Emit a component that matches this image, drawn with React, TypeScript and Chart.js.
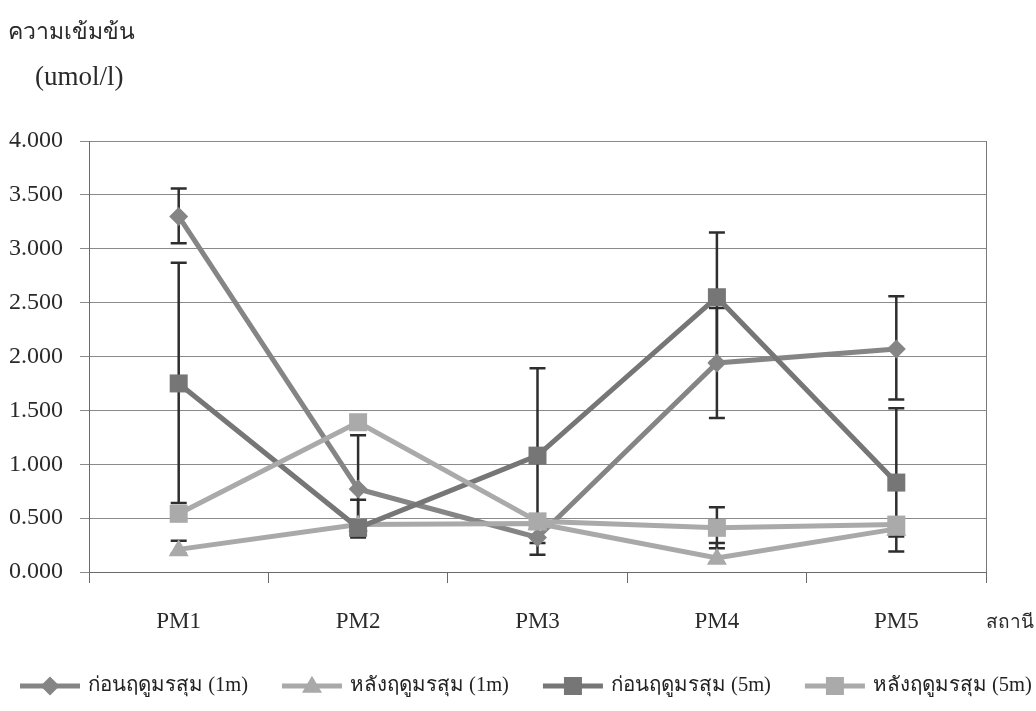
import React, { useEffect, useRef } from 'react';
import { Chart, registerables } from 'chart.js';
Chart.register(...registerables);

const categories = ['PM1', 'PM2', 'PM3', 'PM4', 'PM5'];
const seriesNames = ['ก่อนฤดูมรสุม (1m)', 'หลังฤดูมรสุม (1m)', 'ก่อนฤดูมรสุม (5m)', 'หลังฤดูมรสุม (5m)'];
const before1m = [3.30, 0.77, 0.32, 1.94, 2.07];
const after1m = [0.21, 0.44, 0.45, 0.13, 0.40];
const before5m = [1.75, 0.41, 1.08, 2.55, 0.83];
const after5m = [0.54, 1.39, 0.47, 0.41, 0.44];
// error bars as [low, high]
const before1mErr: ([number, number] | null)[] = [[3.05, 3.56], [0.32, 1.27], [0.16, 0.48], [1.43, 2.45], [1.60, 2.56]];
const after1mErr: ([number, number] | null)[] = [[0.17, 0.29], null, null, [0.09, 0.27], null];
const before5mErr: ([number, number] | null)[] = [[0.64, 2.87], [0.41, 0.67], [0.27, 1.89], [1.95, 3.15], [0.19, 1.52]];
const after5mErr: ([number, number] | null)[] = [null, null, null, [0.22, 0.60], [0.33, 0.44]];
const yTicks = [0, 0.5, 1, 1.5, 2, 2.5, 3, 3.5, 4];

const colors = ['#858585', '#a9a9a9', '#767676', '#aaaaaa'];
const markers = ['diamond', 'triangle', 'square', 'square'];
const errSets = [before1mErr, after1mErr, before5mErr, after5mErr];

function drawMarker(ctx: CanvasRenderingContext2D, kind: string, x: number, y: number, color: string) {
  ctx.save();
  ctx.fillStyle = color;
  ctx.beginPath();
  if (kind === 'diamond') {
    const r = 9.5;
    ctx.moveTo(x, y - r); ctx.lineTo(x + r, y); ctx.lineTo(x, y + r); ctx.lineTo(x - r, y); ctx.closePath();
  } else if (kind === 'triangle') {
    const h = 17, w = 20;
    ctx.moveTo(x, y - h * 0.6); ctx.lineTo(x + w / 2, y + h * 0.4); ctx.lineTo(x - w / 2, y + h * 0.4); ctx.closePath();
  } else {
    const s = 18;
    ctx.rect(x - s / 2, y - s / 2, s, s);
  }
  ctx.fill();
  ctx.restore();
}

export default function App() {
  const ref = useRef<HTMLCanvasElement>(null);
  useEffect(() => {
    document.body.style.margin = '0';
    const errorBarPlugin = {
      id: 'errorBars',
      beforeDatasetsDraw(chart: any) {
        const ctx = chart.ctx;
        const ys = chart.scales.y;
        const ca = chart.chartArea;
        ctx.save();
        ctx.strokeStyle = '#7a7a7a';
        ctx.lineWidth = 1;
        ctx.beginPath();
        ctx.moveTo(ca.right + 0.5, ca.top);
        ctx.lineTo(ca.right + 0.5, ca.bottom);
        ctx.stroke();
        ctx.restore();
        chart.data.datasets.forEach((_ds: any, i: number) => {
          const meta = chart.getDatasetMeta(i);
          const errs = errSets[i];
          meta.data.forEach((pt: any, j: number) => {
            const e = errs[j];
            if (!e) return;
            const x = pt.x;
            const y1 = ys.getPixelForValue(e[0]);
            const y2 = ys.getPixelForValue(e[1]);
            ctx.save();
            ctx.strokeStyle = '#2e2e2e';
            ctx.lineWidth = 2.5;
            ctx.beginPath();
            ctx.moveTo(x, y1); ctx.lineTo(x, y2);
            ctx.moveTo(x - 8, y1); ctx.lineTo(x + 8, y1);
            ctx.moveTo(x - 8, y2); ctx.lineTo(x + 8, y2);
            ctx.stroke();
            ctx.restore();
          });
        });
      },
      afterDatasetsDraw(chart: any) {
        const ctx = chart.ctx;
        chart.data.datasets.forEach((_ds: any, i: number) => {
          const meta = chart.getDatasetMeta(i);
          meta.data.forEach((pt: any) => drawMarker(ctx, markers[i], pt.x, pt.y, colors[i]));
        });
      },
      afterDraw(chart: any) {
        const ctx = chart.ctx;
        ctx.save();
        ctx.font = '20.5px "Liberation Serif", serif';
        ctx.fillStyle = '#222';
        ctx.textBaseline = 'middle';
        let x = 20;
        const yC = 686;
        seriesNames.forEach((name, i) => {
          ctx.strokeStyle = colors[i];
          ctx.lineWidth = 5;
          ctx.beginPath();
          ctx.moveTo(x, yC); ctx.lineTo(x + 60, yC);
          ctx.stroke();
          drawMarker(ctx, markers[i], x + 30, yC, colors[i]);
          ctx.fillStyle = '#222';
          ctx.fillText(name, x + 68, yC);
          x += 68 + ctx.measureText(name).width + 34;
        });
        ctx.restore();
      },
    };

    const mk = (i: number, data: number[], order: number) => ({
      label: seriesNames[i],
      data,
      borderColor: colors[i],
      backgroundColor: colors[i],
      borderWidth: 5,
      pointRadius: 0,
      tension: 0,
      order,
    });

    const chart = new Chart(ref.current!, {
      type: 'line',
      data: {
        labels: categories,
        datasets: [mk(0, before1m, 3), mk(1, after1m, 2), mk(2, before5m, 1), mk(3, after5m, 0)],
      },
      plugins: [errorBarPlugin],
      options: {
        animation: false,
        responsive: false,
        events: [],
        layout: { padding: { left: 0, right: 50, top: 141, bottom: 0 } },
        plugins: { legend: { display: false }, tooltip: { enabled: false } },
        scales: {
          x: {
            offset: true,
            grid: { offset: true, drawOnChartArea: false, tickLength: 11, color: '#6a6a6a' },
            border: { display: true, color: '#6a6a6a' },
            ticks: { color: '#2a2a2a', font: { family: '"Liberation Serif", serif', size: 23 }, padding: 25 },
            afterFit: (s: any) => { s.height = 139; },
          },
          y: {
            min: 0,
            max: 4,
            afterBuildTicks: (s: any) => { s.ticks = yTicks.map((v) => ({ value: v })); },
            grid: { color: '#8a8a8a', tickLength: 9 },
            border: { display: true, color: '#6a6a6a' },
            ticks: {
              color: '#2a2a2a',
              font: { family: '"Liberation Serif", serif', size: 24 },
              padding: 17,
              callback: (v: any) => Number(v).toFixed(3),
            },
            afterFit: (s: any) => { s.width = 89; },
          },
        },
      },
    });
    return () => chart.destroy();
  }, []);

  return (
    <div style={{ position: 'fixed', left: 0, top: 0, width: 1036, height: 711, background: '#fff' }}>
      <canvas ref={ref} width={1036} height={711} style={{ position: 'absolute', left: 0, top: 0 }} />
      <div style={{ position: 'absolute', left: 8, top: 13, fontSize: 23, fontFamily: '"Liberation Serif", serif', color: '#2a2a2a', whiteSpace: 'nowrap' }}>ความเข้มข้น</div>
      <div style={{ position: 'absolute', left: 35, top: 61, fontSize: 27, fontFamily: '"Liberation Serif", serif', color: '#2a2a2a', whiteSpace: 'nowrap' }}>(umol/l)</div>
      <div style={{ position: 'absolute', left: 986, top: 606, fontSize: 19, fontFamily: '"Liberation Serif", serif', color: '#2a2a2a', whiteSpace: 'nowrap' }}>สถานี</div>
    </div>
  );
}
